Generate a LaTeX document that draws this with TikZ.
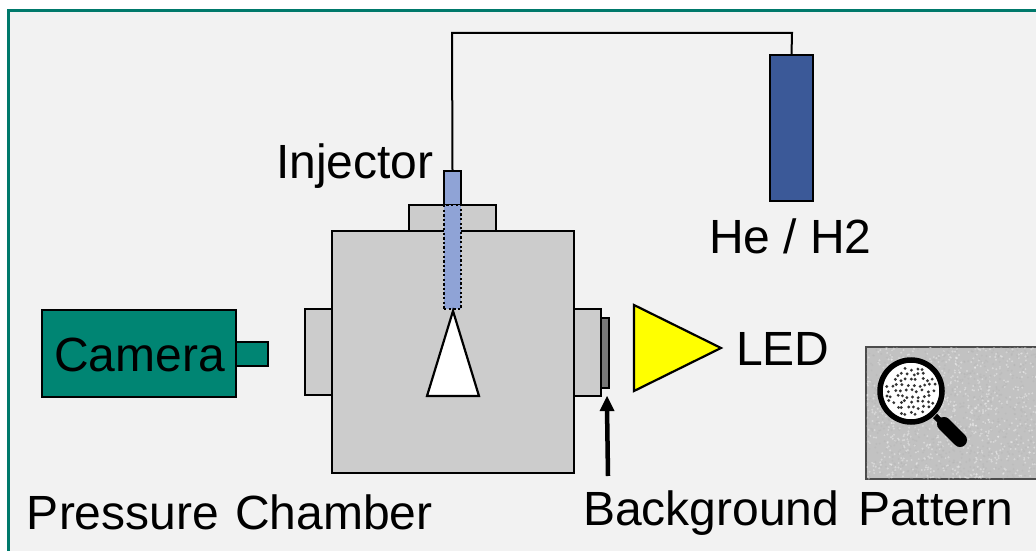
\documentclass[tikz,border=0pt]{standalone}
\usepackage{fontspec}
\setmainfont{Liberation Sans}
\definecolor{framec}{HTML}{00796B}
\definecolor{panel}{HTML}{F2F2F2}
\definecolor{chamberc}{HTML}{CCCCCC}
\definecolor{camerac}{HTML}{008573}
\definecolor{bottlec}{HTML}{3B5998}
\definecolor{injc}{HTML}{8FA3D6}
\definecolor{slivc}{HTML}{777777}
\definecolor{patc}{HTML}{C2C2C2}
\definecolor{ledc}{HTML}{FFFF00}
\tikzset{
  part/.style={draw=black,line width=2.2pt,rectangle,inner sep=0pt,outer sep=0pt,fill=chamberc},
  lbl/.style={inner sep=0pt,outer sep=0pt,anchor=base west,font=\fontsize{48}{52}\selectfont},
  pipe/.style={draw=black,line width=2pt},
  tri/.style={draw=black,line width=2.2pt,line join=miter}
}
\begin{document}
\begin{tikzpicture}[x=1pt,y=-1pt]
\useasboundingbox (0,0) rectangle (1036,551);
\fill[white] (0,0) rectangle (1036,551);
\fill[panel] (8,11) rectangle (1036,551);
\draw[framec,line width=3pt] (8,551) -- (8,11) -- (1036,11);
% background pattern picture
\node[part,draw=black!70,line width=1.2pt,fill=patc,minimum width=172pt,minimum height=132pt] (pic) at (952,413) {};
\begin{scope}
\clip (866.6,347.6) rectangle (1036,479);
\pgfmathsetseed{7}
\foreach \i in {1,...,1600}{
  \pgfmathsetmacro{\px}{866+170*rnd}
  \pgfmathsetmacro{\py}{347+132*rnd}
  \pgfmathsetmacro{\pw}{rnd}
  \ifdim\pw pt<0.5pt
    \fill[black!30,opacity=.35] (\px,\py) circle (1.1pt);
  \else
    \fill[white,opacity=.35] (\px,\py) circle (1.1pt);
  \fi
}
\end{scope}
\coordinate (hs) at (935,416);
\coordinate (he) at (960,440);
\draw[black,line width=6pt] (hs) -- (he);
\draw[black,line width=14pt,line cap=round] (944,424) -- (he);
\node[circle,draw=black,line width=5.5pt,fill=white,minimum size=62pt,inner sep=0pt] (lens) at (911,391) {};
\begin{scope}
\clip (lens.center) circle (28pt);
\pgfmathsetseed{21}
\foreach \ix in {-6,...,6}{
  \foreach \iy in {-6,...,6}{
    \pgfmathsetmacro{\dx}{5.5*\ix+1.5*rand+(mod(\iy+6,2))*2.7}
    \pgfmathsetmacro{\dy}{5.5*\iy+1.5*rand}
    \pgfmathsetmacro{\dd}{\dx*\dx+\dy*\dy}
    \ifdim\dd pt<640pt
      \fill[black!80] ([shift={(\dx pt,\dy pt)}]lens.center) circle (1.6pt);
    \fi
  }
}
\end{scope}
% chamber
\node[part,minimum width=87pt,minimum height=26pt] (flange) at (452.5,218) {};
\node[part,minimum width=27pt,minimum height=86pt] (portl) at (318.5,352) {};
\node[part,minimum width=27pt,minimum height=87pt] (portr) at (587.5,352.5) {};
\node[part,minimum width=242pt,minimum height=242pt] (chamber) at (453,352) {};
\node[part,fill=slivc,minimum width=8pt,minimum height=70pt] (sliver) at (605,353) {};
% injector
\node[part,fill=injc,minimum width=17pt,minimum height=34pt] (injtop) at (452.5,188) {};
\node[part,fill=injc,draw=black,dash pattern=on 2.3pt off 2.3pt,line width=2.4pt,minimum width=17pt,minimum height=104pt] (injlow) at (452.5,257) {};
% bottle and tube
\node[part,fill=bottlec,minimum width=43pt,minimum height=146pt] (bottle) at (791.5,128) {};
\draw[pipe] (injtop.north) -- (452,33) -- (792,33) -- (bottle.north);
% spray cone
\coordinate (ca) at (453,311);
\coordinate (cb) at (427,396);
\coordinate (cc) at (479,396);
\draw[tri,fill=white] (ca) -- (cc) -- (cb) -- cycle;
% LED
\coordinate (la) at (634,305);
\coordinate (lb) at (634,391);
\coordinate (lc) at (721,348);
\draw[tri,fill=ledc] (la) -- (lc) -- (lb) -- cycle;
% camera
\node[part,fill=camerac,minimum width=194pt,minimum height=87pt] (camera) at (139,353.5) {};
\node[part,fill=camerac,minimum width=32pt,minimum height=24pt] (camlens) at (252,354) {};
% arrow
\coordinate (as) at (608,476);
\coordinate (at) at (607,407);
\draw[black,line width=4.5pt] (as) -- (at);
\fill[black] (607,396) -- (614.5,411) -- (599.5,411) -- cycle;
% labels
\node[lbl] (tinj) at (276,178) {Injector};
\node[lbl] (the) at (709,253) {He / H2};
\node[lbl] (tled) at (736,365) {LED};
\node[lbl] (tcam) at (54,371) {Camera};
\node[lbl] (tpc) at (27,529) {Pressure\hspace{16pt}Chamber};
\node[lbl] (tbp) at (583,525) {Background\hspace{19pt}Pattern};
\end{tikzpicture}
\end{document}
